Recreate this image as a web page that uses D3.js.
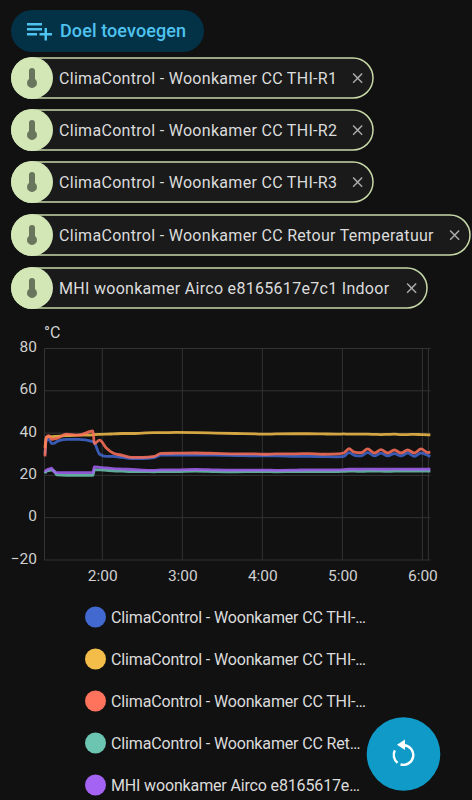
<!DOCTYPE html>
<html>
<head>
<meta charset="utf-8">
<script src="https://cdn.jsdelivr.net/npm/d3@7"></script>
<style>
  html, body { margin: 0; padding: 0; background: #111111; }
  svg { display: block; font-family: Roboto, sans-serif; }
</style>
</head>
<body>
<svg id="chart" width="472" height="800"></svg>
<script>
// minutes since midnight
var times = [77, 78, 80, 82, 84, 86, 93, 102, 113, 114, 118, 123, 128, 135, 142, 150, 159, 164, 175, 190, 205, 220, 235, 242, 250, 265, 275, 285, 297, 301, 305, 309, 314, 319, 324, 329, 334, 339, 344, 349, 354, 359, 364, 366];

var r1Values = [30, 36.5, 37, 35, 35.2, 36, 37, 37, 36, 35.5, 30, 29, 29, 28.5, 28, 28, 28.4, 29.6, 29.6, 29.6, 29.6, 29.4, 29.2, 29.2, 29.2, 29, 29, 28.9, 28.8, 29, 30.8, 29.5, 29.2, 30.8, 29.2, 30.5, 29.2, 30.3, 29.2, 30.6, 29, 30.6, 29.5, 29];
var r2Values = [33, 38, 38.3, 38.3, 38.4, 38.5, 38.8, 39, 39.2, 39.3, 39.4, 39.5, 39.6, 39.8, 39.8, 40, 40.2, 40.2, 40.3, 40.2, 40, 39.8, 39.6, 39.5, 39.6, 39.7, 39.7, 39.6, 39.5, 39.6, 39.5, 39.5, 39.5, 39.5, 39.4, 39.3, 39.4, 39.5, 39.3, 39.3, 39.4, 39.3, 39.2, 39.2];
var r3Values = [29, 38, 38.8, 37, 37.3, 37.5, 39.5, 39, 41, 35, 36.7, 33, 30.6, 29.5, 28.5, 28.5, 29, 30.4, 30.5, 30.6, 30.4, 30.2, 30.2, 30, 30.2, 30.2, 30.3, 30, 30.2, 30.6, 32.6, 31, 30.7, 32.5, 30.6, 32.2, 30.6, 32, 30.6, 32, 30.6, 32.5, 30.8, 31];
var retourValues = [21, 22, 22.3, 22.5, 22, 20.2, 20, 20, 20, 22.6, 22.6, 22.4, 22.2, 22, 21.8, 21.8, 21.7, 21.8, 21.8, 22, 21.8, 21.7, 21.8, 21.8, 21.7, 21.8, 21.8, 21.8, 21.8, 21.9, 22, 22, 21.9, 22, 22, 22, 21.9, 22, 22, 22, 22, 22, 22, 22];
var indoorValues = [21.5, 22.5, 23, 23.4, 21.6, 21.3, 21.3, 21.3, 21.3, 24, 23.8, 23.5, 23.2, 23, 22.8, 22.5, 22.4, 22.6, 22.6, 22.8, 22.6, 22.5, 22.5, 22.5, 22.4, 22.5, 22.6, 22.6, 22.6, 22.7, 22.9, 22.9, 22.9, 23, 22.9, 22.9, 22.9, 23, 22.9, 22.9, 22.9, 22.9, 22.9, 22.9];

var seriesNames = ['ClimaControl - Woonkamer CC THI-…', 'ClimaControl - Woonkamer CC THI-…', 'ClimaControl - Woonkamer CC THI-…', 'ClimaControl - Woonkamer CC Ret…', 'MHI woonkamer Airco e8165617e…'];
var seriesColors = ['#4269d0', '#f4bd4a', '#ff725c', '#6cc5b0', '#a463f2'];
var seriesValues = [r1Values, r2Values, r3Values, retourValues, indoorValues];

var chipLabels = ['ClimaControl - Woonkamer CC THI-R1', 'ClimaControl - Woonkamer CC THI-R2', 'ClimaControl - Woonkamer CC THI-R3', 'ClimaControl - Woonkamer CC Retour Temperatuur', 'MHI woonkamer Airco e8165617e7c1 Indoor'];
var chipWidths = [363, 363, 363, 460, 417];
var chipTops = [57, 109, 161, 214, 267];

var xTicks = [120, 180, 240, 300, 360];
var xEdges = [76.65, 364.5];
var yTicks = [-20, 0, 20, 40, 60, 80];

var svg = d3.select('#chart');

// mdi icon paths
var listPlus = 'M2 16H10V14H2M18 14V10H16V14H12V16H16V20H18V16H22V14M14 6H2V8H14M14 10H2V12H14V10Z';
var thermometer = 'M15 13V5A3 3 0 0 0 9 5V13A5 5 0 1 0 15 13Z';
var closeIcon = 'M19 6.41L17.59 5 12 10.59 6.41 5 5 6.41 10.59 12 5 17.59 6.41 19 12 13.41 17.59 19 19 17.59 13.41 12 19 6.41Z';

// add target button
svg.append('rect').attr('x', 11).attr('y', 10).attr('width', 193).attr('height', 42).attr('rx', 21).attr('fill', '#033247');
svg.append('path').attr('d', listPlus).attr('transform', 'translate(24.5,15.5) scale(1.25)').attr('fill', '#4fc3f0');
svg.append('text').attr('x', 60).attr('y', 37).attr('font-size', 18).attr('letter-spacing', 0.1).attr('font-weight', 500).attr('fill', '#4fc3f0').text('Doel toevoegen');

// target chips
var chips = svg.selectAll('g.chip').data(chipLabels).enter().append('g').attr('class', 'chip')
    .attr('transform', function (d, i) { return 'translate(11,' + chipTops[i] + ')'; });
chips.append('rect').attr('x', 1).attr('y', 1).attr('height', 40)
    .attr('width', function (d, i) { return chipWidths[i] - 2; })
    .attr('rx', 20).attr('fill', '#1a1a1a').attr('stroke', '#c6d8a8').attr('stroke-width', 1.5);
chips.append('circle').attr('cx', 21).attr('cy', 21).attr('r', 21).attr('fill', '#d2e6b6');
chips.append('path').attr('d', thermometer).attr('transform', 'translate(9,9)').attr('fill', '#69755c');
chips.append('text').attr('x', 48).attr('y', 26.5).attr('font-size', 16).attr('letter-spacing', 0.3).attr('fill', '#dcdcdc').text(function (d) { return d; });
chips.append('path').attr('d', closeIcon)
    .attr('transform', function (d, i) { return 'translate(' + (chipWidths[i] - 25) + ',12.5) scale(0.72)'; })
    .attr('fill', '#aaaaaa');

// chart
var x = d3.scaleLinear().domain([76.65, 366.1]).range([44.5, 430.5]);
var y = d3.scaleLinear().domain([-20, 80]).range([560, 348.5]);

var grid = svg.append('g').attr('stroke', '#333333').attr('stroke-width', 1);
grid.selectAll('line.h').data(yTicks).enter().append('line').attr('class', 'h')
    .attr('x1', x.range()[0]).attr('x2', x.range()[1])
    .attr('y1', function (d) { return y(d); }).attr('y2', function (d) { return y(d); });
grid.selectAll('line.v').data(xTicks.concat(xEdges)).enter().append('line').attr('class', 'v')
    .attr('y1', y.range()[1]).attr('y2', y.range()[0])
    .attr('x1', function (d) { return x(d); }).attr('x2', function (d) { return x(d); });

var xAxis = d3.axisBottom(x).tickValues(xTicks).tickSize(0).tickPadding(10)
    .tickFormat(function (d) { return Math.floor(d / 60) + ':00'; });
var yAxis = d3.axisLeft(y).tickValues(yTicks).tickSize(0).tickPadding(7.5);

var gx = svg.append('g').attr('transform', 'translate(0,560)').call(xAxis);
var gy = svg.append('g').attr('transform', 'translate(44.5,0)').call(yAxis);
[gx, gy].forEach(function (g) {
    g.select('.domain').remove();
    g.selectAll('text').attr('font-family', 'Roboto, sans-serif').attr('font-size', 15.5).attr('fill', '#d0d0d0');
});
gy.selectAll('text').attr('dy', '0.2em');
svg.append('text').attr('x', 44).attr('y', 338).attr('font-size', 16).attr('fill', '#d0d0d0').text('°C');

var line = d3.line()
    .x(function (d, i) { return x(times[i]); })
    .y(function (d) { return y(d); })
    .curve(d3.curveMonotoneX);

svg.selectAll('path.series').data(seriesValues).enter().append('path').attr('class', 'series')
    .attr('d', line).attr('fill', 'none').attr('stroke-width', 2.8).attr('stroke-linejoin', 'round').attr('stroke-opacity', 0.85)
    .attr('stroke', function (d, i) { return seriesColors[i]; });

// legend
var legend = svg.selectAll('g.legend').data(seriesNames).enter().append('g').attr('class', 'legend')
    .attr('transform', function (d, i) { return 'translate(95.5,' + (617 + i * 42) + ')'; });
legend.append('circle').attr('r', 10.5).attr('fill', function (d, i) { return seriesColors[i]; });
legend.append('text').attr('x', 15.5).attr('y', 5.5).attr('font-size', 16).attr('letter-spacing', -0.15).attr('fill', '#dcdcdc').text(function (d) { return d; });

// refresh button
var fab = svg.append('g').attr('transform', 'translate(403.5,754)');
fab.append('circle').attr('r', 36.8).attr('fill', '#0f9ac8');
var ringArc = d3.arc().innerRadius(8.6).outerRadius(11);
fab.selectAll('path.ring').data([[0.05, 3.45], [3.8, 5.2]]).enter().append('path').attr('class', 'ring')
    .attr('d', function (d) { return ringArc({ startAngle: d[0], endAngle: d[1] }); })
    .attr('fill', '#ffffff').attr('transform', 'translate(0,1)');
fab.append('path').attr('d', 'M1.5 -14.5V-4L-6.5 -9.3Z').attr('fill', '#ffffff');
</script>
</body>
</html>
